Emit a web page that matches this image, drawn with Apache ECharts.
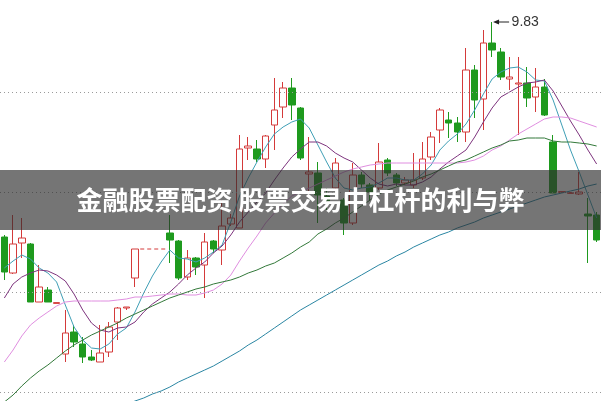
<!DOCTYPE html>
<html><head><meta charset="utf-8">
<script src="https://cdn.jsdelivr.net/npm/echarts@6/dist/echarts.min.js"></script>
<style>html,body{margin:0;padding:0;background:#fff}#c{width:601px;height:401px}</style>
</head><body><div id="c"></div>
<script>
// trading days shown (labels hidden in the reference)
const categories = Array.from({length: 69}, (_, i) => String(i + 1));

// candle values (null = halted days)
const opens  = [8.755,8.575,8.725,8.72,8.43,8.49,8.423,8.17,8.28,8.22,8.155,8.13,8.18,8.33,8.40,8.55,null,null,null,8.775,8.735,8.555,8.65,8.615,8.735,8.69,8.82,8.80,9.20,9.195,9.145,9.315,9.405,9.50,9.40,9.07,9.075,8.96,9.00,8.94,8.825,9.065,9.015,9.00,9.14,9.065,9.025,9.015,9.05,9.155,9.29,9.34,9.325,9.28,9.59,9.445,9.725,9.68,9.545,9.52,9.525,9.455,9.505,9.23,8.978,8.973,8.97,8.87,8.865];
const closes = [8.58,8.72,8.75,8.43,8.505,8.43,8.427,8.275,8.23,8.155,8.14,8.175,8.305,8.40,8.405,8.695,null,null,null,8.74,8.55,8.65,8.605,8.73,8.695,8.81,8.85,9.195,9.21,9.145,9.26,9.39,9.50,9.415,9.15,9.08,8.965,8.935,9.125,8.825,9.065,9.02,8.98,9.13,9.075,9.025,9.04,9.04,9.145,9.255,9.39,9.325,9.28,9.59,9.44,9.725,9.69,9.555,9.555,9.525,9.45,9.505,9.365,8.975,8.982,8.977,8.98,8.86,8.74];
const lows   = [8.54,8.57,8.65,8.43,8.43,8.43,8.423,8.13,8.205,8.125,8.135,8.13,8.155,8.24,8.39,8.505,null,null,null,8.625,8.54,8.54,8.565,8.45,8.675,8.615,8.81,8.80,9.14,9.13,9.10,9.19,9.35,9.34,9.14,8.98,8.825,8.89,8.98,8.765,8.815,9.00,8.94,8.99,9.06,9.01,9.015,9.00,9.04,9.14,9.225,9.25,9.23,9.23,9.35,9.29,9.655,9.54,9.49,9.265,9.405,9.38,9.36,8.975,8.978,8.973,8.965,8.625,8.73];
const highs  = [8.765,8.865,8.85,8.725,8.615,8.505,8.427,8.39,8.315,8.255,8.19,8.315,8.33,8.405,8.405,8.695,null,null,null,8.865,8.74,8.69,8.655,8.775,8.74,8.94,8.87,9.265,9.255,9.24,9.265,9.55,9.53,9.55,9.405,9.255,9.13,9.00,9.15,8.95,9.125,9.08,9.025,9.225,9.15,9.075,9.055,9.175,9.23,9.28,9.40,9.38,9.355,9.70,9.615,9.79,9.83,9.70,9.655,9.655,9.605,9.60,9.545,9.265,8.982,8.98,9.08,8.95,8.88];

// moving averages
const ma5  = [8.60,8.635,8.665,8.645,8.60,8.575,8.53,8.415,8.305,8.24,8.20,8.195,8.22,8.27,8.30,8.38,8.475,8.56,8.63,8.69,8.65,8.645,8.63,8.65,8.68,8.715,8.83,8.96,9.05,9.13,9.205,9.27,9.305,9.33,9.345,9.30,9.215,9.13,9.05,9.00,8.99,9.00,9.005,9.025,9.05,9.05,9.04,9.04,9.07,9.115,9.19,9.235,9.27,9.32,9.39,9.47,9.545,9.58,9.60,9.605,9.58,9.54,9.535,9.44,9.315,9.19,9.08,8.965,8.85];
const ma10 = [8.45,8.52,8.555,8.575,8.59,8.585,8.565,8.535,8.47,8.39,8.325,8.29,8.28,8.30,8.305,8.33,8.38,8.42,8.45,8.48,8.52,8.565,8.60,8.63,8.675,8.71,8.765,8.83,8.88,8.93,8.975,9.04,9.10,9.155,9.195,9.23,9.23,9.21,9.175,9.15,9.13,9.09,9.05,9.02,9.01,9.02,9.015,9.015,9.03,9.055,9.095,9.13,9.16,9.19,9.255,9.33,9.40,9.455,9.48,9.505,9.525,9.53,9.54,9.485,9.41,9.335,9.265,9.19,9.12];
const ma20 = [8.13,8.19,8.26,8.315,8.35,8.38,8.41,8.43,8.435,8.435,8.435,8.435,8.435,8.44,8.445,8.455,8.455,8.46,8.465,8.47,8.47,8.465,8.465,8.475,8.49,8.52,8.565,8.635,8.70,8.76,8.825,8.875,8.92,8.96,8.98,9.00,9.02,9.04,9.06,9.08,9.095,9.105,9.115,9.12,9.125,9.125,9.125,9.125,9.125,9.125,9.125,9.125,9.125,9.13,9.14,9.16,9.19,9.21,9.24,9.27,9.295,9.32,9.345,9.355,9.355,9.35,9.335,9.32,9.305];
const ma30 = [7.93,7.965,8.01,8.05,8.085,8.115,8.15,8.185,8.215,8.24,8.265,8.285,8.305,8.325,8.35,8.37,8.39,8.41,8.43,8.45,8.465,8.48,8.495,8.505,8.52,8.53,8.54,8.555,8.575,8.59,8.61,8.625,8.65,8.675,8.705,8.73,8.77,8.795,8.825,8.85,8.88,8.91,8.94,8.97,8.99,9.005,9.02,9.035,9.055,9.07,9.09,9.11,9.13,9.14,9.16,9.18,9.20,9.215,9.235,9.24,9.25,9.25,9.25,9.235,9.23,9.23,9.225,9.22,9.21];
const ma60 = [null,null,null,null,null,null,null,null,null,null,null,null,null,null,7.915,7.935,7.95,7.97,7.985,8.005,8.03,8.05,8.07,8.09,8.11,8.135,8.16,8.185,8.215,8.24,8.27,8.30,8.33,8.36,8.39,8.415,8.44,8.465,8.49,8.515,8.54,8.565,8.59,8.615,8.635,8.66,8.68,8.705,8.725,8.745,8.765,8.78,8.80,8.815,8.83,8.85,8.865,8.88,8.895,8.91,8.925,8.94,8.955,8.965,8.975,8.985,8.995,9.01,9.02];

// horizontal dotted reference levels
const gridLevels = [9.48, 8.98, 8.48, 7.98];

const titleText = '金融股票配资 股票交易中杠杆的利与弊';

const UP = '#d43a3a', DOWN = '#1e9a1e';
const n = categories.length;
const candleData = opens.map((o, i) => o == null ? ['-', '-', '-', '-'] : [o, closes[i], lows[i], highs[i]]);

// halted span
let haltStart = -1, haltEnd = -1;
opens.forEach((o, i) => { if (o == null) { if (haltStart < 0) haltStart = i; haltEnd = i; } });
const haltLevel = closes[haltStart - 1];

// peak
let peakIdx = 0;
highs.forEach((h, i) => { if (h != null && h > highs[peakIdx]) peakIdx = i; });
const peakVal = highs[peakIdx];

function maSeries(data, color) {
  return { type: 'line', data: data, xAxisIndex: 0, yAxisIndex: 0, symbol: 'none', smooth: false,
    lineStyle: { color: color, width: 1 }, z: 4, silent: true };
}

const chart = echarts.init(document.getElementById('c'));
chart.setOption({
  animation: false,
  backgroundColor: '#ffffff',
  grid: { left: 0, right: -1, top: 0, bottom: 0 },
  xAxis: [
    { type: 'category', data: categories, show: false, boundaryGap: true },
    { type: 'value', min: -0.5, max: n - 0.5, show: false }
  ],
  yAxis: [{ type: 'value', min: 7.935, max: 9.94, show: false, splitLine: { show: false } }],
  series: [
    {
      type: 'candlestick', data: candleData, barWidth: 7, z: 3,
      itemStyle: { color: '#ffffff', color0: DOWN, borderColor: UP, borderColor0: DOWN, borderWidth: 1 },
      markLine: {
        silent: true, symbol: 'none', label: { show: false }, animation: false,
        lineStyle: { color: '#9a9a9a', type: [1, 3], width: 1 },
        data: gridLevels.map(v => ({ yAxis: v }))
      }
    },
    maSeries(ma5, '#3f9fb6'),
    maSeries(ma10, '#7e347e'),
    maSeries(ma20, '#e08ee0'),
    maSeries(ma30, '#33793a'),
    maSeries(ma60, '#2a86a3'),
    {
      type: 'line', xAxisIndex: 1, yAxisIndex: 0, symbol: 'none', silent: true, z: 5,
      lineStyle: { color: UP, width: 1, type: [4, 3] },
      data: [[haltStart - 1 + 0.6, haltLevel], [haltEnd + 1 - 0.25, haltLevel]]
    },
    {
      type: 'line', xAxisIndex: 1, yAxisIndex: 0, silent: true, z: 6,
      lineStyle: { color: '#222', width: 1 },
      data: [
        { value: [peakIdx + 0.45, peakVal], symbol: 'triangle', symbolSize: [5, 6], symbolRotate: 90, itemStyle: { color: '#222' } },
        { value: [peakIdx + 1.95, peakVal], symbol: 'circle', symbolSize: 1, itemStyle: { color: 'rgba(0,0,0,0)' },
          label: { show: true, position: 'right', distance: 2, formatter: peakVal.toFixed(2),
                   color: '#333', fontSize: 14, fontFamily: 'Liberation Sans, Arial, sans-serif' } }
      ]
    }
  ],
  graphic: [
    { type: 'rect', z: 100, shape: { x: 0, y: 170, width: 601, height: 60 },
      style: { fill: 'rgba(45,45,45,0.66)' } },
    { type: 'text', z: 101, x: 300.5, y: 200,
      style: { text: titleText, fill: '#ffffff', font: 'bold 26px "Noto Sans CJK SC", sans-serif',
               textAlign: 'center', verticalAlign: 'middle', textVerticalAlign: 'middle' } }
  ]
});
</script></body></html>
